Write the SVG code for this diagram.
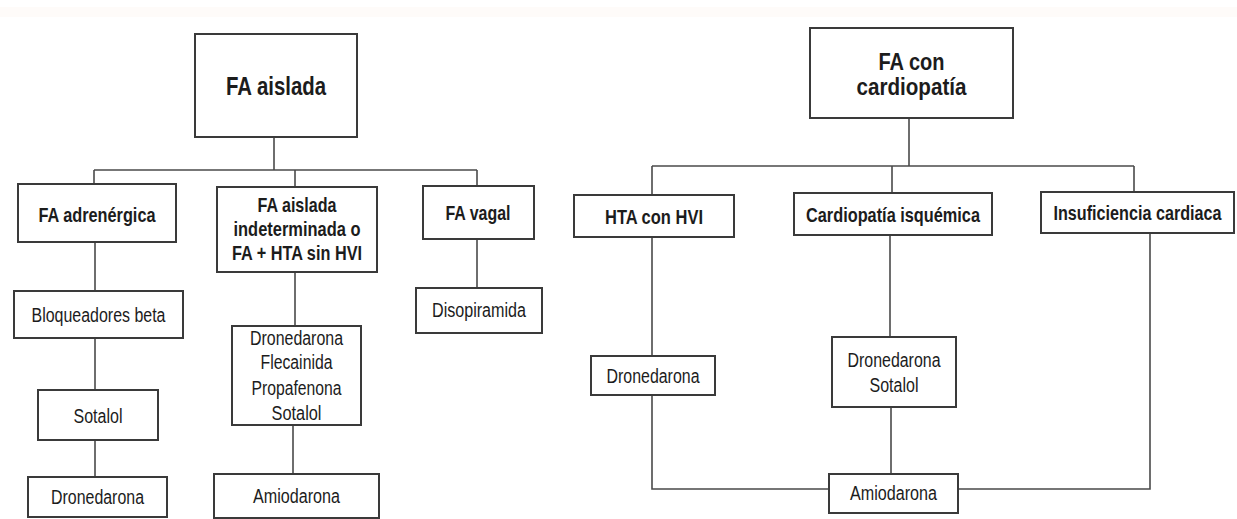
<svg xmlns="http://www.w3.org/2000/svg" width="1237" height="519" viewBox="0 0 1237 519">
  <style>
    .box { fill: #ffffff; stroke: #3a3a3a; stroke-width: 2; }
    .link { fill: none; stroke: #4a4a4a; stroke-width: 1.6; }
    text { font-family: "Liberation Sans Narrow", "Liberation Sans", Arial, sans-serif; fill: #1c1c1c; text-anchor: middle; }
    .root { font-size: 25px; font-weight: bold; }
    .root2 { font-size: 24px; font-weight: bold; }
    .cat { font-size: 21px; font-weight: bold; }
    .drug { font-size: 20px; }
  </style>
  <rect x="0" y="0" width="1237" height="519" fill="#ffffff"/>
  <rect x="0" y="7" width="1237" height="10" fill="#fefbf9"/>

  <!-- connectors -->
  <g id="connectors">
    <!-- left tree -->
    <path class="link" d="M274 137 V170"/>
    <path class="link" d="M94 170 H477"/>
    <path class="link" d="M94 170 V184"/>
    <path class="link" d="M295 170 V187"/>
    <path class="link" d="M477 170 V186"/>
    <path class="link" d="M95 242 V291"/>
    <path class="link" d="M95 338 V390"/>
    <path class="link" d="M95 440 V477"/>
    <path class="link" d="M295 272 V326"/>
    <path class="link" d="M293 425 V474"/>
    <path class="link" d="M477 239 V288"/>
    <!-- right tree -->
    <path class="link" d="M909 118 V166"/>
    <path class="link" d="M652 166 H1134"/>
    <path class="link" d="M652 166 V195"/>
    <path class="link" d="M892 166 V193"/>
    <path class="link" d="M1134 166 V192"/>
    <path class="link" d="M652 237 V356"/>
    <path class="link" d="M652 395 V489 H829"/>
    <path class="link" d="M890 235 V337"/>
    <path class="link" d="M891 407 V474"/>
    <path class="link" d="M958 489 H1150 V233"/>
  </g>

  <!-- left tree: FA aislada -->
  <g id="fa-aislada">
    <rect class="box" x="195" y="34" width="162" height="103"/>
    <text class="root" x="276" y="95" textLength="100" lengthAdjust="spacingAndGlyphs">FA aislada</text>
  </g>
  <g id="fa-adrenergica">
    <rect class="box" x="18" y="184" width="158" height="58"/>
    <text class="cat" x="97" y="222" textLength="117" lengthAdjust="spacingAndGlyphs">FA adrenérgica</text>
  </g>
  <g id="fa-indeterminada">
    <rect class="box" x="217" y="187" width="160" height="85"/>
    <text class="cat" x="297" y="212" textLength="79" lengthAdjust="spacingAndGlyphs">FA aislada</text>
    <text class="cat" x="297" y="236" textLength="127" lengthAdjust="spacingAndGlyphs">indeterminada o</text>
    <text class="cat" x="297" y="260" textLength="130" lengthAdjust="spacingAndGlyphs">FA + HTA sin HVI</text>
  </g>
  <g id="fa-vagal">
    <rect class="box" x="423" y="186" width="111" height="53"/>
    <text class="cat" x="478" y="220" textLength="65" lengthAdjust="spacingAndGlyphs">FA vagal</text>
  </g>
  <g id="bloqueadores-beta">
    <rect class="box" x="14" y="291" width="169" height="47"/>
    <text class="drug" x="98.5" y="322" textLength="134" lengthAdjust="spacingAndGlyphs">Bloqueadores beta</text>
  </g>
  <g id="sotalol-left">
    <rect class="box" x="38" y="390" width="120" height="50"/>
    <text class="drug" x="98" y="423" textLength="49" lengthAdjust="spacingAndGlyphs">Sotalol</text>
  </g>
  <g id="dronedarona-left">
    <rect class="box" x="28" y="477" width="139" height="40"/>
    <text class="drug" x="97.5" y="504" textLength="93" lengthAdjust="spacingAndGlyphs">Dronedarona</text>
  </g>
  <g id="lista-antiarritmicos">
    <rect class="box" x="232" y="326" width="129" height="99"/>
    <text class="drug" x="296.5" y="345" textLength="93" lengthAdjust="spacingAndGlyphs">Dronedarona</text>
    <text class="drug" x="296.5" y="369" textLength="72" lengthAdjust="spacingAndGlyphs">Flecainida</text>
    <text class="drug" x="296.5" y="395" textLength="90" lengthAdjust="spacingAndGlyphs">Propafenona</text>
    <text class="drug" x="296.5" y="420" textLength="50" lengthAdjust="spacingAndGlyphs">Sotalol</text>
  </g>
  <g id="amiodarona-left">
    <rect class="box" x="214" y="474" width="165" height="44"/>
    <text class="drug" x="296.5" y="503" textLength="87" lengthAdjust="spacingAndGlyphs">Amiodarona</text>
  </g>
  <g id="disopiramida">
    <rect class="box" x="416" y="288" width="126" height="45"/>
    <text class="drug" x="479" y="317" textLength="94" lengthAdjust="spacingAndGlyphs">Disopiramida</text>
  </g>

  <!-- right tree: FA con cardiopatía -->
  <g id="fa-cardiopatia">
    <rect class="box" x="810" y="28" width="203" height="90"/>
    <text class="root2" x="911.5" y="70" textLength="66" lengthAdjust="spacingAndGlyphs">FA con</text>
    <text class="root2" x="911.5" y="95" textLength="110" lengthAdjust="spacingAndGlyphs">cardiopatía</text>
  </g>
  <g id="hta-hvi">
    <rect class="box" x="574" y="195" width="160" height="42"/>
    <text class="cat" x="654" y="224" textLength="98" lengthAdjust="spacingAndGlyphs">HTA con HVI</text>
  </g>
  <g id="cardiopatia-isquemica">
    <rect class="box" x="794" y="193" width="198" height="42"/>
    <text class="cat" x="893" y="222" textLength="174" lengthAdjust="spacingAndGlyphs">Cardiopatía isquémica</text>
  </g>
  <g id="insuficiencia-cardiaca">
    <rect class="box" x="1041" y="192" width="193" height="41"/>
    <!-- condensed horizontally to sit inside the box -->
    <text class="cat" transform="translate(1137.5 220) scale(0.77 1)" x="0" y="0">Insuficiencia cardiaca</text>
  </g>
  <g id="dronedarona-right">
    <rect class="box" x="591" y="356" width="124" height="39"/>
    <text class="drug" x="653" y="383" textLength="93" lengthAdjust="spacingAndGlyphs">Dronedarona</text>
  </g>
  <g id="dronedarona-sotalol">
    <rect class="box" x="832" y="337" width="124" height="70"/>
    <text class="drug" x="894" y="367" textLength="93" lengthAdjust="spacingAndGlyphs">Dronedarona</text>
    <text class="drug" x="894" y="392" textLength="49" lengthAdjust="spacingAndGlyphs">Sotalol</text>
  </g>
  <g id="amiodarona-right">
    <rect class="box" x="829" y="474" width="129" height="39"/>
    <text class="drug" x="893.5" y="500" textLength="87" lengthAdjust="spacingAndGlyphs">Amiodarona</text>
  </g>
</svg>
